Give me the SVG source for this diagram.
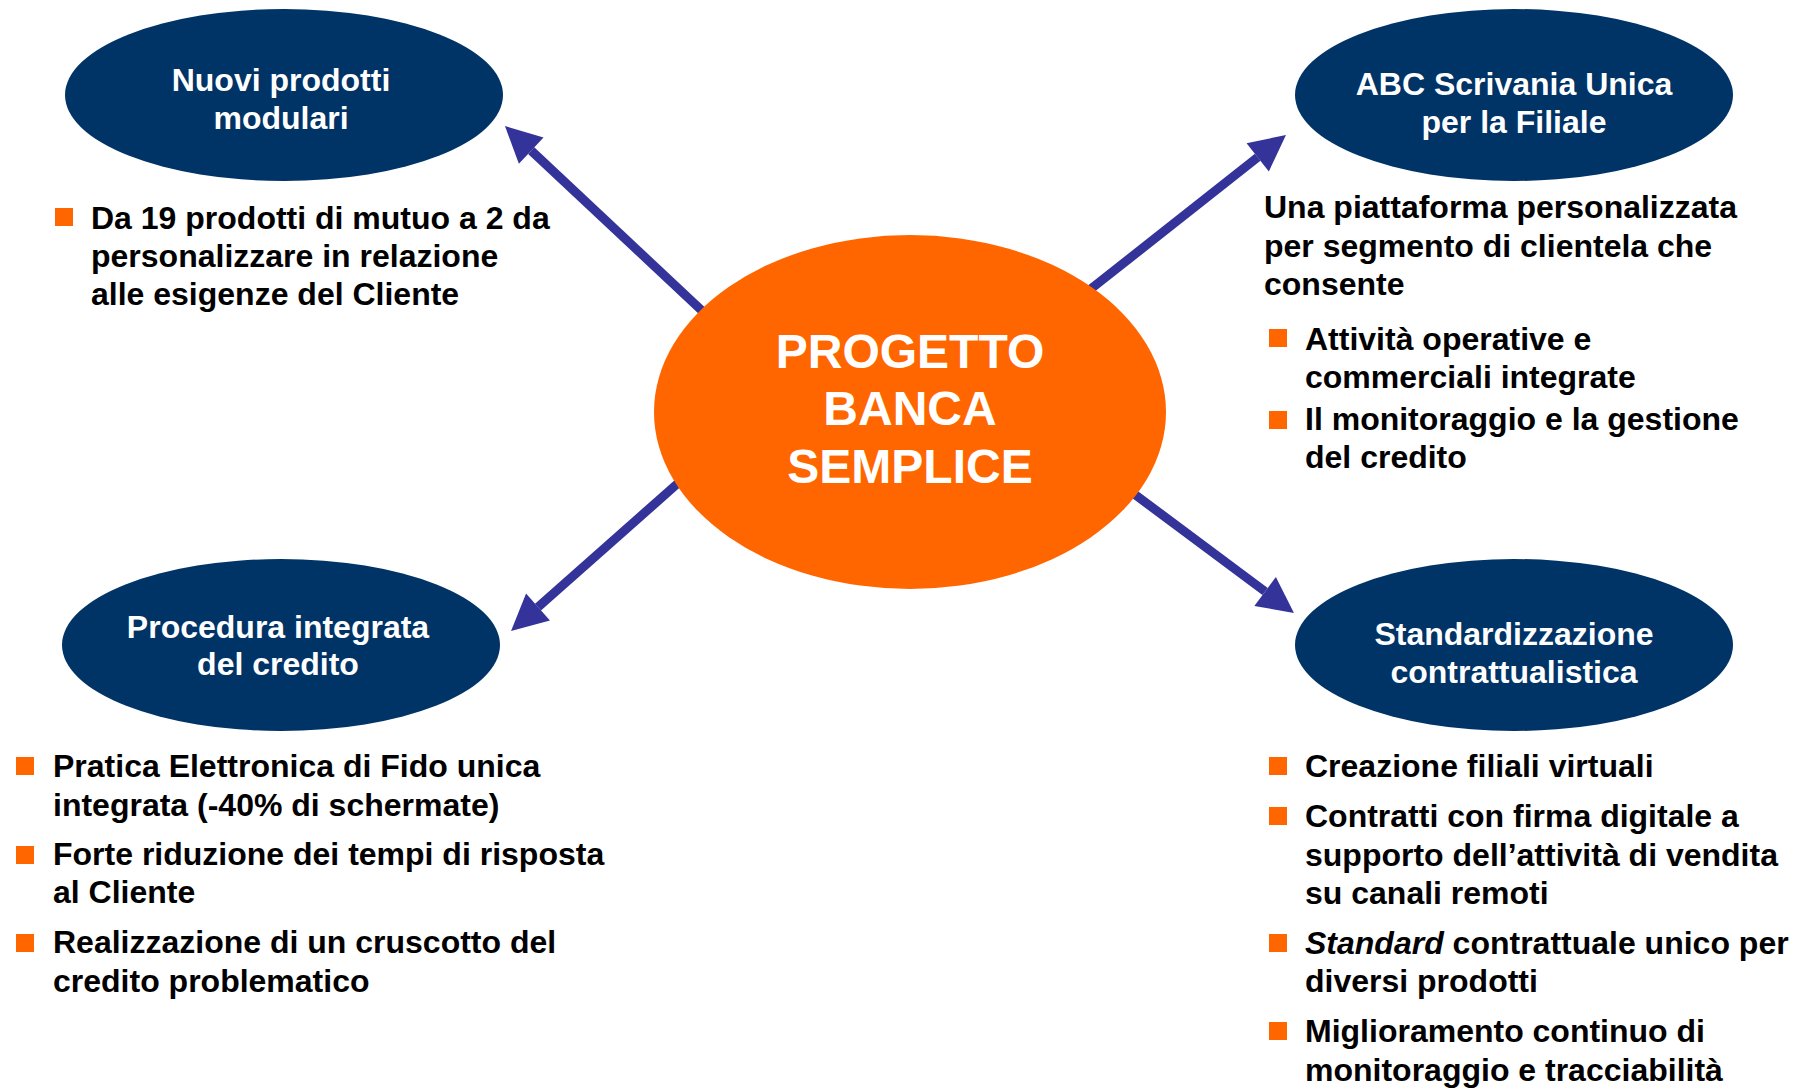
<svg xmlns="http://www.w3.org/2000/svg" width="1803" height="1088" viewBox="0 0 1803 1088">
<defs>
<style>
.node{fill:#003366}
.center{fill:#FF6600}
.lbl{font-family:"Liberation Sans",Arial,sans-serif;font-weight:bold;font-size:32px;fill:#FFFFFF;text-anchor:middle}
.clbl{font-family:"Liberation Sans",Arial,sans-serif;font-weight:bold;font-size:48px;fill:#FFFFFF;text-anchor:middle}
.body{font-family:"Liberation Sans",Arial,sans-serif;font-weight:bold;font-size:32px;fill:#000000}
.bul{fill:#FF6600}
.conn{stroke:#333399;stroke-width:9;fill:none;marker-end:url(#ah)}
</style>
<marker id="ah" markerUnits="userSpaceOnUse" markerWidth="40" markerHeight="40" refX="0" refY="0" viewBox="0 -20 40 40" orient="auto" overflow="visible">
<path d="M0,-18 L36,0 L0,18 z" fill="#333399"/>
</marker>
</defs>
<rect width="1803" height="1088" fill="#FFFFFF"/>
<g id="connectors">
<line class="conn" x1="730" y1="337" x2="531.2" y2="150.6"/>
<line class="conn" x1="1060.6" y1="312.8" x2="1257.7" y2="157.3"/>
<line class="conn" x1="707" y1="457.5" x2="538" y2="607.1"/>
<line class="conn" x1="1102" y1="470" x2="1265.1" y2="591.5"/>
</g>
<g id="center">
<ellipse class="center" cx="910" cy="412" rx="256" ry="177"/>
<text class="clbl" x="910" y="368">PROGETTO</text>
<text class="clbl" x="910" y="425">BANCA</text>
<text class="clbl" x="910" y="483">SEMPLICE</text>
</g>
<g id="nuovi-prodotti">
<ellipse class="node" cx="284" cy="95" rx="219" ry="86"/>
<text class="lbl" x="281" y="91">Nuovi prodotti</text>
<text class="lbl" x="281" y="129">modulari</text>
<rect class="bul" x="55" y="208" width="18" height="18"/>
<text class="body" x="91" y="229">Da 19 prodotti di mutuo a 2 da</text>
<text class="body" x="91" y="267">personalizzare in relazione</text>
<text class="body" x="91" y="305">alle esigenze del Cliente</text>
</g>
<g id="scrivania-unica">
<ellipse class="node" cx="1514" cy="95" rx="219" ry="86"/>
<text class="lbl" x="1514" y="95">ABC Scrivania Unica</text>
<text class="lbl" x="1514" y="133">per la Filiale</text>
<text class="body" x="1264" y="218">Una piattaforma personalizzata</text>
<text class="body" x="1264" y="257">per segmento di clientela che</text>
<text class="body" x="1264" y="295">consente</text>
<rect class="bul" x="1269" y="329" width="18" height="18"/>
<text class="body" x="1305" y="350">Attività operative e</text>
<text class="body" x="1305" y="388">commerciali integrate</text>
<rect class="bul" x="1269" y="411" width="18" height="18"/>
<text class="body" x="1305" y="430">Il monitoraggio e la gestione</text>
<text class="body" x="1305" y="468">del credito</text>
</g>
<g id="procedura-credito">
<ellipse class="node" cx="281" cy="645" rx="219" ry="86"/>
<text class="lbl" x="278" y="638">Procedura integrata</text>
<text class="lbl" x="278" y="675">del credito</text>
<rect class="bul" x="16" y="757" width="18" height="18"/>
<text class="body" x="53" y="777">Pratica Elettronica di Fido unica</text>
<text class="body" x="53" y="816">integrata (-40% di schermate)</text>
<rect class="bul" x="16" y="846" width="18" height="18"/>
<text class="body" x="53" y="865">Forte riduzione dei tempi di risposta</text>
<text class="body" x="53" y="903">al Cliente</text>
<rect class="bul" x="16" y="934" width="18" height="18"/>
<text class="body" x="53" y="953">Realizzazione di un cruscotto del</text>
<text class="body" x="53" y="992">credito problematico</text>
</g>
<g id="standardizzazione">
<ellipse class="node" cx="1514" cy="645" rx="219" ry="86"/>
<text class="lbl" x="1514" y="645">Standardizzazione</text>
<text class="lbl" x="1514" y="683">contrattualistica</text>
<rect class="bul" x="1269" y="757" width="18" height="18"/>
<text class="body" x="1305" y="777">Creazione filiali virtuali</text>
<rect class="bul" x="1269" y="807" width="18" height="18"/>
<text class="body" x="1305" y="827">Contratti con firma digitale a</text>
<text class="body" x="1305" y="866">supporto dell’attività di vendita</text>
<text class="body" x="1305" y="904">su canali remoti</text>
<rect class="bul" x="1269" y="934" width="18" height="18"/>
<text class="body" x="1305" y="954"><tspan font-style="italic">Standard</tspan> contrattuale unico per</text>
<text class="body" x="1305" y="992">diversi prodotti</text>
<rect class="bul" x="1269" y="1022" width="18" height="18"/>
<text class="body" x="1305" y="1042">Miglioramento continuo di</text>
<text class="body" x="1305" y="1081">monitoraggio e tracciabilità</text>
</g>
</svg>
